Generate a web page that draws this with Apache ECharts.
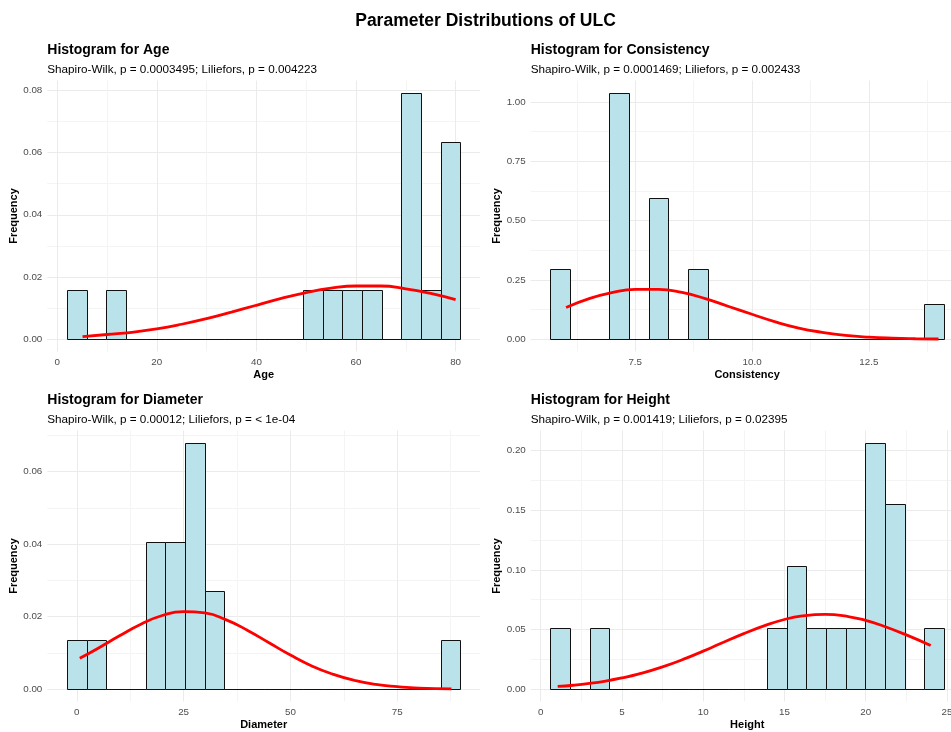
<!DOCTYPE html>
<html>
<head>
<meta charset="utf-8">
<script src="https://cdn.jsdelivr.net/npm/echarts@6/dist/echarts.min.js"></script>
<style>
  html, body { margin: 0; padding: 0; background: #ffffff; }
  #chart { width: 951px; height: 732px; }
</style>
</head>
<body>
<div id="chart"></div>
<script>
// ---- Data: density histograms (20 bins each) and fitted normal curves ----

// Age
const ageBinStart = 1.97;
const ageBinWidth = 3.95;
const ageDensity = [0.0158, 0, 0.0158, 0, 0, 0, 0, 0, 0, 0, 0, 0, 0.0158, 0.0158, 0.0158, 0.0158, 0, 0.0792, 0.0158, 0.0633];
const ageCurve = [[5.1, 0.0008], [10, 0.0015], [15, 0.0022], [20, 0.0033], [25, 0.0048], [30, 0.0066], [35, 0.0087], [40, 0.0109], [45, 0.0131], [50, 0.0150], [55, 0.0164], [60, 0.0171], [65, 0.0171], [70, 0.0162], [75, 0.0147], [80, 0.0127]];
const ageXTicks = [0, 20, 40, 60, 80];
const ageYTicks = [0, 0.02, 0.04, 0.06, 0.08];

// Consistency
const consBinStart = 5.684;
const consBinWidth = 0.421;
const consDensity = [0.297, 0, 0, 1.039, 0, 0.594, 0, 0.297, 0, 0, 0, 0, 0, 0, 0, 0, 0, 0, 0, 0.1485];
const consCurve = [[6.02, 0.134], [6.5, 0.170], [7.0, 0.196], [7.5, 0.210], [8.0, 0.210], [8.5, 0.197], [9.0, 0.171], [9.5, 0.138], [10.0, 0.105], [10.5, 0.073], [11.0, 0.047], [11.5, 0.029], [12.0, 0.016], [12.5, 0.0085], [13.0, 0.0042], [13.5, 0.0019], [13.99, 0.0008]];
const consXTicks = [7.5, 10, 12.5];
const consYTicks = [0, 0.25, 0.5, 0.75, 1.0];

// Diameter
const diamBinStart = -2.30;
const diamBinWidth = 4.605;
const diamDensity = [0.0136, 0.0136, 0, 0, 0.0407, 0.0407, 0.0679, 0.0271, 0, 0, 0, 0, 0, 0, 0, 0, 0, 0, 0, 0.0136];
const diamCurve = [[0.7, 0.0085], [5, 0.0113], [10, 0.0147], [15, 0.0179], [20, 0.0203], [25, 0.0214], [30, 0.0210], [35, 0.0191], [40, 0.0162], [45, 0.0128], [50, 0.0094], [55, 0.0064], [60, 0.0041], [65, 0.0024], [70, 0.0013], [75, 0.0007], [80, 0.0003], [87.7, 0.0001]];
const diamXTicks = [0, 25, 50, 75];
const diamYTicks = [0, 0.02, 0.04, 0.06];

// Height
const heightBinStart = 0.605;
const heightBinWidth = 1.2105;
const heightDensity = [0.0516, 0, 0.0516, 0, 0, 0, 0, 0, 0, 0, 0, 0.0516, 0.1033, 0.0516, 0.0516, 0.0516, 0.2065, 0.1549, 0, 0.0516];
const heightCurve = [[1.05, 0.0023], [2, 0.0033], [3, 0.0048], [4, 0.0068], [5, 0.0094], [6, 0.0126], [7.5, 0.0187], [9, 0.0262], [10, 0.0319], [11, 0.0378], [12.5, 0.0466], [14, 0.0543], [15, 0.0584], [16, 0.0612], [17.5, 0.0627], [19, 0.0607], [20, 0.0577], [21, 0.0534], [22.5, 0.0455], [24, 0.0366]];
const heightXTicks = [0, 5, 10, 15, 20, 25];
const heightYTicks = [0, 0.05, 0.10, 0.15, 0.20];

// ---- Panel definitions ----
const panels = [
  { title: 'Histogram for Age', subtitle: 'Shapiro-Wilk, p = 0.0003495; Liliefors, p = 0.004223', xName: 'Age',
    binStart: ageBinStart, binWidth: ageBinWidth, density: ageDensity, curve: ageCurve,
    xTicks: ageXTicks, yTicks: ageYTicks, xDigits: 0, yDigits: 2, left: 47.3, top: 80.5 },
  { title: 'Histogram for Consistency', subtitle: 'Shapiro-Wilk, p = 0.0001469; Liliefors, p = 0.002433', xName: 'Consistency',
    binStart: consBinStart, binWidth: consBinWidth, density: consDensity, curve: consCurve,
    xTicks: consXTicks, yTicks: consYTicks, xDigits: 1, yDigits: 2, left: 530.7, top: 80.5 },
  { title: 'Histogram for Diameter', subtitle: 'Shapiro-Wilk, p = 0.00012; Liliefors, p = < 1e-04', xName: 'Diameter',
    binStart: diamBinStart, binWidth: diamBinWidth, density: diamDensity, curve: diamCurve,
    xTicks: diamXTicks, yTicks: diamYTicks, xDigits: 0, yDigits: 2, left: 47.3, top: 430.5 },
  { title: 'Histogram for Height', subtitle: 'Shapiro-Wilk, p = 0.001419; Liliefors, p = 0.02395', xName: 'Height',
    binStart: heightBinStart, binWidth: heightBinWidth, density: heightDensity, curve: heightCurve,
    xTicks: heightXTicks, yTicks: heightYTicks, xDigits: 0, yDigits: 2, left: 530.8, top: 430.5 }
];

const PANEL_W = 432.8;
const PANEL_H = 271;
const FONT = '"Liberation Sans", Arial, Helvetica, sans-serif';
const MAJOR_GRID = '#EBEBEB';
const MINOR_GRID = '#F4F4F4';

// Major + minor gridline positions inside [min, max]; colours follow the same order
function gridValues(majors, min, max) {
  const step = majors.length > 1 ? majors[1] - majors[0] : 1;
  const vals = [];
  const first = majors[0] - step;
  for (let i = 0; i <= (majors.length + 1) * 2; i++) {
    const v = +(first + i * step / 2).toFixed(6);
    if (v >= min && v <= max) vals.push({ v, major: i % 2 === 0 });
  }
  return vals;
}

const grids = [], xAxes = [], yAxes = [], series = [], graphics = [];

graphics.push({
  type: 'text', x: 485.5, y: 21.6, silent: true,
  style: { text: 'Parameter Distributions of ULC', fill: '#000', font: 'bold 17.5px ' + FONT, align: 'center', verticalAlign: 'middle' }
});

panels.forEach((p, i) => {
  const nBins = p.density.length;
  const span = nBins * p.binWidth;
  const xMin = p.binStart - 0.05 * span;
  const xMax = p.binStart + span + 0.05 * span;
  const yTop = Math.max.apply(null, p.density);
  const yMin = -0.05 * yTop;
  const yMax = 1.05 * yTop;

  // the right-hand panels run slightly past the canvas edge, so no outer-bounds fitting
  grids.push({ left: p.left, top: p.top, width: PANEL_W, height: PANEL_H, containLabel: false, outerBoundsMode: 'none' });

  const xg = gridValues(p.xTicks, xMin, xMax);
  const yg = gridValues(p.yTicks, yMin, yMax);

  xAxes.push({
    gridIndex: i, type: 'value', min: xMin, max: xMax,
    axisLine: { show: false },
    axisTick: { show: false, customValues: xg.map(d => d.v) },
    axisLabel: { customValues: p.xTicks, color: '#4D4D4D', fontSize: 9.8, fontFamily: FONT, margin: 6,
      formatter: v => Number(v).toFixed(p.xDigits) },
    splitLine: { show: true, lineStyle: { width: 1, color: xg.map(d => d.major ? MAJOR_GRID : MINOR_GRID) } },
    name: p.xName, nameLocation: 'middle', nameGap: 18,
    nameTextStyle: { color: '#000', fontWeight: 'bold', fontSize: 11, fontFamily: FONT }
  });

  yAxes.push({
    gridIndex: i, type: 'value', min: yMin, max: yMax,
    axisLine: { show: false },
    axisTick: { show: false, customValues: yg.map(d => d.v) },
    axisLabel: { customValues: p.yTicks, color: '#4D4D4D', fontSize: 9.8, fontFamily: FONT, margin: 5,
      formatter: v => Number(v).toFixed(p.yDigits) },
    splitLine: { show: true, lineStyle: { width: 1, color: yg.map(d => d.major ? MAJOR_GRID : MINOR_GRID) } },
    name: 'Frequency', nameLocation: 'middle', nameGap: 24.5, nameRotate: 90,
    nameTextStyle: { color: '#000', fontWeight: 'bold', fontSize: 11, fontFamily: FONT }
  });

  const bins = p.density.map((d, k) => [p.binStart + k * p.binWidth, p.binStart + (k + 1) * p.binWidth, d]);

  series.push({
    type: 'custom', xAxisIndex: i, yAxisIndex: i, silent: true, z: 2,
    data: bins,
    encode: { x: [0, 1], y: 2 },
    renderItem: (params, api) => {
      const a = api.coord([api.value(0), api.value(2)]);
      const b = api.coord([api.value(1), 0]);
      // snap outlines to half pixels so the 1px borders stay crisp
      const x0 = Math.round(a[0]) + 0.5, x1 = Math.round(b[0]) + 0.5;
      const y0 = Math.round(a[1]) + 0.5, y1 = Math.round(b[1]) + 0.5;
      return {
        type: 'rect',
        shape: { x: x0, y: y0, width: x1 - x0, height: y1 - y0 },
        style: { fill: api.value(2) > 0 ? '#B9E2EB' : 'none', stroke: '#111111', lineWidth: 1 }
      };
    }
  });

  series.push({
    type: 'line', xAxisIndex: i, yAxisIndex: i, silent: true, z: 3,
    data: p.curve, smooth: true, symbol: 'none',
    lineStyle: { color: '#FF0000', width: 2.8 }
  });

  graphics.push({
    type: 'text', x: p.left, y: p.top - 30.5, silent: true,
    style: { text: p.title, fill: '#000', font: 'bold 14px ' + FONT, align: 'left', verticalAlign: 'middle' }
  });
  graphics.push({
    type: 'text', x: p.left, y: p.top - 10.8, silent: true,
    style: { text: p.subtitle, fill: '#000', font: '11.7px ' + FONT, align: 'left', verticalAlign: 'middle' }
  });
});

const chart = echarts.init(document.getElementById('chart'), null, { renderer: 'canvas' });
chart.setOption({
  backgroundColor: '#ffffff',
  animation: false,
  grid: grids,
  xAxis: xAxes,
  yAxis: yAxes,
  series: series,
  graphic: graphics
});
</script>
</body>
</html>
